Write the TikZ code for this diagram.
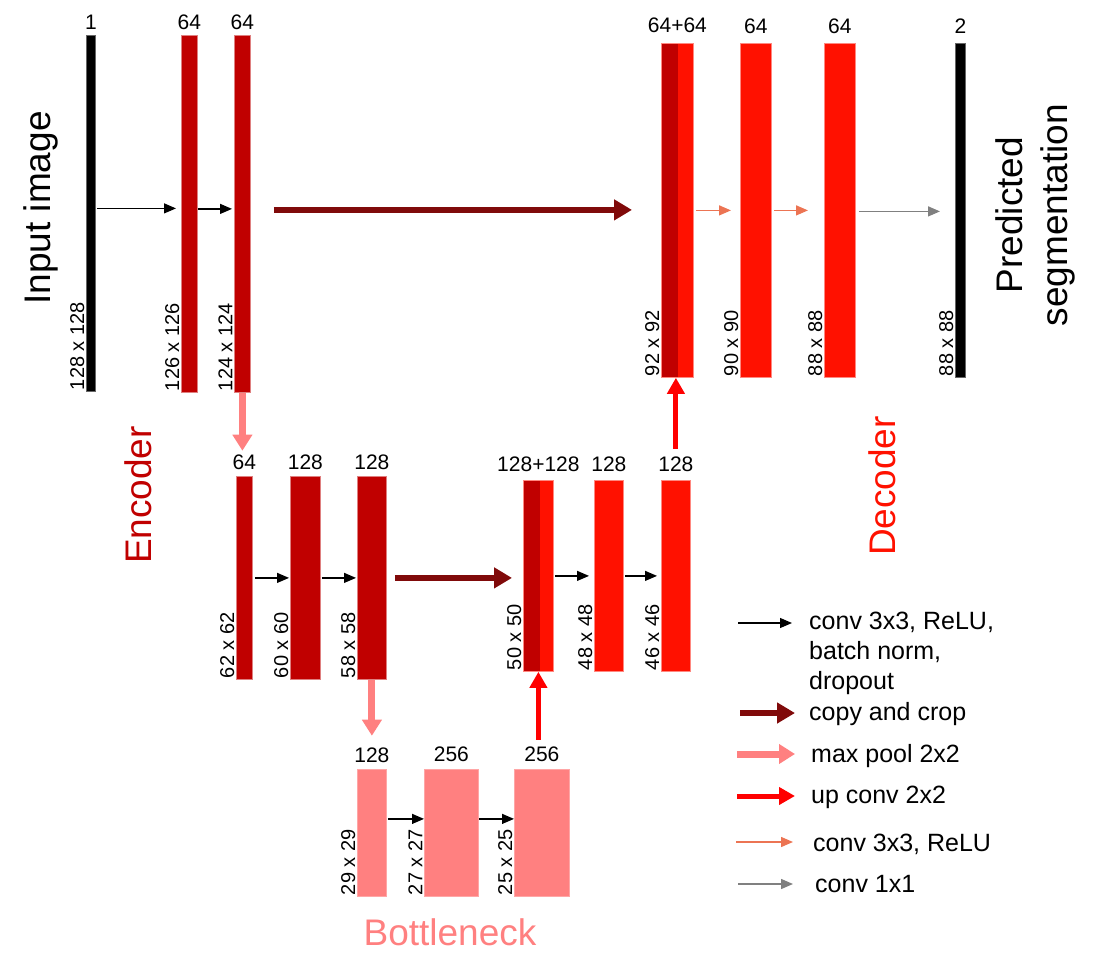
\documentclass[tikz,border=0pt]{standalone}
\usepackage{fontspec}
\setmainfont{Liberation Sans}
\usepackage{tikz}
\usetikzlibrary{calc}
\usetikzlibrary{arrows.meta}
\usetikzlibrary{positioning}
\usepackage{xcolor}

\definecolor{encred}{HTML}{C00000}
\definecolor{decred}{HTML}{FF1100}
\definecolor{copyred}{HTML}{800A0A}
\definecolor{poolpink}{HTML}{FF8080}
\definecolor{upred}{HTML}{FF0000}
\definecolor{reluorange}{HTML}{EC7453}
\definecolor{onegray}{HTML}{808080}

\begin{document}
\begin{tikzpicture}[x=1pt, y=-1pt,
    bar/.style={line width=0.8pt, inner sep=0pt, anchor=north west},
    blackbar/.style={bar, fill=black, draw=black!60},
    encbar/.style={bar, fill=encred, draw=encred!50!white},
    decbar/.style={bar, fill=decred, draw=decred!50!white},
    botbar/.style={bar, fill=poolpink, draw=poolpink!70!white},
    catbar/.style={decbar, path picture={\fill[encred] (path picture bounding box.north west) rectangle ([xshift=17pt]path picture bounding box.south west);}},
    chlbl/.style={inner sep=2pt, font=\fontsize{21}{25}\selectfont},
    dimlbl/.style={rotate=90, anchor=south west, inner sep=1.5pt, font=\fontsize{20}{24}\selectfont},
    bigtxt/.style={rotate=90, anchor=base, font=\fontsize{37}{45}\selectfont},
    legtxt/.style={anchor=base west, inner sep=0pt, font=\fontsize{25}{30}\selectfont},
    convarr/.style={-{Triangle[length=12pt, width=10pt]}, line width=1.2pt, black},
    reluarr/.style={-{Triangle[length=12pt, width=10pt]}, line width=1.4pt, reluorange},
    grayarr/.style={-{Triangle[length=12pt, width=10pt]}, line width=1.4pt, onegray},
    copyarr/.style={-{Triangle[length=18pt, width=20pt]}, line width=6pt, copyred},
    poolarr/.style={-{Triangle[length=16pt, width=19pt]}, line width=7pt, poolpink},
    uparr/.style={-{Triangle[length=16pt, width=17pt]}, line width=5pt, upred}]
    \useasboundingbox (0,0) rectangle (1100,979);

    % encoder, level 1
    \node[blackbar, minimum width=9, minimum height=356] (inp) at (86,35) {};
    \node[encbar, minimum width=16, minimum height=357] (e1) at (181,35) {};
    \node[encbar, minimum width=16, minimum height=357] (e2) at (234,35) {};
    \node[chlbl, above=3pt of inp] (inpc) {1};
    \node[chlbl, above=3pt of e1] (e1c) {64};
    \node[chlbl, above=3pt of e2] (e2c) {64};
    \node[dimlbl] (inpd) at (inp.south west) {128 x 128};
    \node[dimlbl] (e1d) at (e1.south west) {126 x 126};
    \node[dimlbl] (e2d) at (e2.south west) {124 x 124};

    % decoder, level 1
    \node[catbar, minimum width=32, minimum height=334] (d1) at (661,43) {};
    \node[decbar, minimum width=31, minimum height=334] (d2) at (740,43) {};
    \node[decbar, minimum width=31, minimum height=334] (d3) at (824,43) {};
    \node[blackbar, minimum width=10, minimum height=334] (outp) at (955,43) {};
    \node[chlbl, above=8pt of d1] (d1c) {64+64};
    \node[chlbl, above=7pt of d2] (d2c) {64};
    \node[chlbl, above=7pt of d3] (d3c) {64};
    \node[chlbl, above=7pt of outp] (outpc) {2};
    \node[dimlbl] (d1d) at (d1.south west) {92 x 92};
    \node[dimlbl] (d2d) at (d2.south west) {90 x 90};
    \node[dimlbl] (d3d) at (d3.south west) {88 x 88};
    \node[dimlbl] (outpd) at (outp.south west) {88 x 88};

    % level 2
    \node[encbar, minimum width=16, minimum height=203] (m1) at (236,476) {};
    \node[encbar, minimum width=30, minimum height=203] (m2) at (290,476) {};
    \node[encbar, minimum width=29, minimum height=203] (m3) at (357,476) {};
    \node[catbar, minimum width=30, minimum height=191] (u1) at (523,480) {};
    \node[decbar, minimum width=29, minimum height=191] (u2) at (594,480) {};
    \node[decbar, minimum width=29, minimum height=191] (u3) at (661,480) {};
    \node[chlbl, above=4pt of m1] (m1c) {64};
    \node[chlbl, above=4pt of m2] (m2c) {128};
    \node[chlbl, above=4pt of m3] (m3c) {128};
    \node[chlbl, above=6pt of u1] (u1c) {128+128};
    \node[chlbl, above=6pt of u2] (u2c) {128};
    \node[chlbl, above=6pt of u3] (u3c) {128};
    \node[dimlbl] (m1d) at (m1.south west) {62 x 62};
    \node[dimlbl] (m2d) at (m2.south west) {60 x 60};
    \node[dimlbl] (m3d) at (m3.south west) {58 x 58};
    \node[dimlbl] (u1d) at (u1.south west) {50 x 50};
    \node[dimlbl] (u2d) at (u2.south west) {48 x 48};
    \node[dimlbl] (u3d) at (u3.south west) {46 x 46};

    % bottleneck
    \node[botbar, minimum width=29, minimum height=127] (b1) at (357,769) {};
    \node[botbar, minimum width=54, minimum height=127] (b2) at (424,769) {};
    \node[botbar, minimum width=55, minimum height=127] (b3) at (514,769) {};
    \node[chlbl, above=4pt of b1] (b1c) {128};
    \node[chlbl, above=5pt of b2] (b2c) {256};
    \node[chlbl, above=5pt of b3] (b3c) {256};
    \node[dimlbl] (b1d) at (b1.south west) {29 x 29};
    \node[dimlbl] (b2d) at (b2.south west) {27 x 27};
    \node[dimlbl] (b3d) at (b3.south west) {25 x 25};

    % titles
    \node[bigtxt] (inptxt) at (50,208) {Input image};
    \node[bigtxt] (predtxt) at (1022,215) {Predicted};
    \node[bigtxt] (segtxt) at (1067,215) {segmentation};
    \node[bigtxt, text=encred] (enctxt) at (151,495) {Encoder};
    \node[bigtxt, text=decred] (dectxt) at (895,486) {Decoder};
    \node[bigtxt, rotate=-90, text=poolpink] (bottxt) at (450,945) {Bottleneck};

    % connectors, level 1
    \draw[convarr, shorten <=1pt, shorten >=5pt] ([yshift=5pt]inp.east) -- ([yshift=5pt]inp.east -| e1.west);
    \draw[convarr, shorten >=2pt] ([yshift=5pt]e1.east) -- ([yshift=5pt]e1.east -| e2.west);
    \draw[copyarr, shorten <=23pt, shorten >=29pt] ([yshift=4pt]e2.east) -- ([yshift=4pt]e2.east -| d1.west);
    \draw[reluarr, shorten <=2pt, shorten >=9pt] (d1) -- (d2);
    \draw[reluarr, shorten <=2pt, shorten >=16pt] (d2) -- (d3);
    \draw[grayarr, shorten <=3pt, shorten >=15pt] ([yshift=-1pt]d3.east) -- ([yshift=-1pt]d3.east -| outp.west);

    % connectors, level 2
    \draw[convarr, shorten <=2pt, shorten >=1pt] (m1) -- (m2);
    \draw[convarr, shorten <=1pt, shorten >=1pt] (m2) -- (m3);
    \draw[copyarr, shorten <=8pt, shorten >=11pt] (m3) -- (m3 -| u1.west);
    \draw[convarr, shorten <=1pt, shorten >=5pt] (u1) -- (u2);
    \draw[convarr, shorten <=1pt, shorten >=4pt] (u2) -- (u3);

    % connectors, bottleneck
    \draw[convarr, shorten <=1pt] ([yshift=14pt]b1.east) -- ([yshift=14pt]b1.east -| b2.west);
    \draw[convarr] ([yshift=14pt]b2.east) -- ([yshift=14pt]b2.east -| b3.west);

    % pooling and up-convolution
    \draw[poolarr, shorten >=2pt] (e2.south) -- (e2.south |- m1c.north);
    \draw[poolarr, shorten >=10pt] (m3.south) -- (m3.south |- b1c.north);
    \draw[uparr, shorten <=6pt] (u3c.north) -- (u3c.north |- d1.south);
    \draw[uparr, shorten <=5pt] (u1.south |- b3c.north) -- (u1.south);

    % legend
    \coordinate (lg1) at (738,623);
    \coordinate (lg2) at (740,713);
    \coordinate (lg3) at (737,754);
    \coordinate (lg4) at (737,796);
    \coordinate (lg5) at (736,842);
    \coordinate (lg6) at (738,884);
    \node[legtxt, anchor=north west, align=left] (lt1) at (809,612) {conv 3x3, ReLU,\\batch norm,\\dropout};
    \node[legtxt] (lt2) at (809,720) {copy and crop};
    \node[legtxt] (lt3) at (811,762) {max pool 2x2};
    \node[legtxt] (lt4) at (811,803) {up conv 2x2};
    \node[legtxt] (lt5) at (813,851) {conv 3x3, ReLU};
    \node[legtxt] (lt6) at (815,892) {conv 1x1};
    \draw[convarr] (lg1) -- ++(54,0);
    \draw[copyarr, shorten >=14pt] (lg2) -- (lg2 -| lt2.west);
    \draw[poolarr, shorten >=16pt] (lg3) -- (lg3 -| lt3.west);
    \draw[uparr, shorten >=16pt] (lg4) -- (lg4 -| lt4.west);
    \draw[reluarr, shorten >=20pt] (lg5) -- (lg5 -| lt5.west);
    \draw[grayarr, shorten >=22pt] (lg6) -- (lg6 -| lt6.west);
\end{tikzpicture}
\end{document}
